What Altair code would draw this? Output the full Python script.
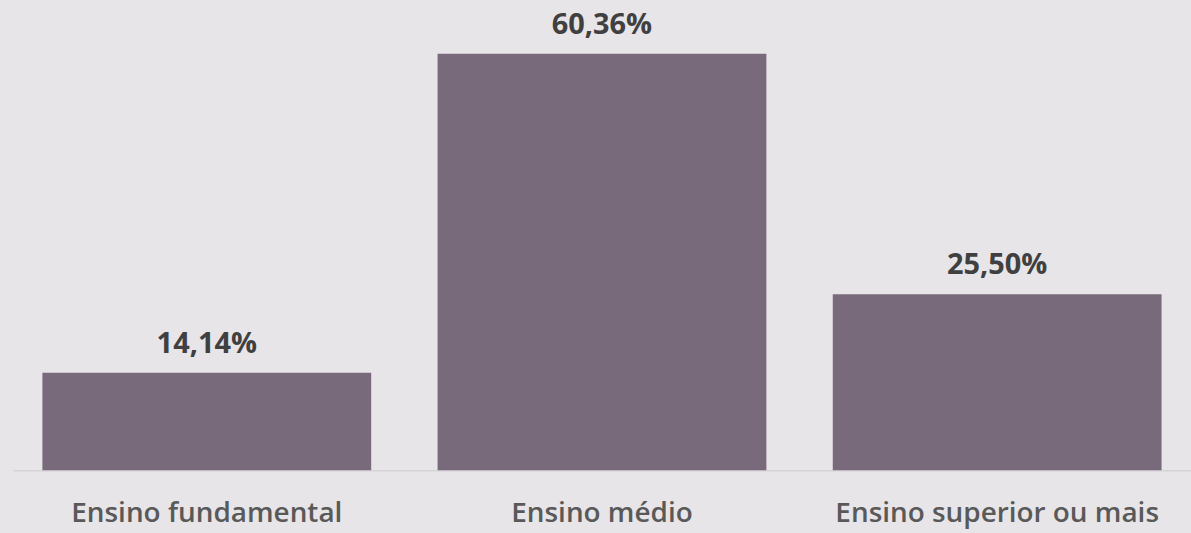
import altair as alt
import pandas as pd

categories = ["Ensino fundamental", "Ensino médio", "Ensino superior ou mais"]
values = [14.14, 60.36, 25.50]
labels = ["14,14%", "60,36%", "25,50%"]

df = pd.DataFrame({"cat": categories, "val": values, "lab": labels})

BG = "#E7E5E8"
FONT = "Open Sans"

x = alt.X("cat:N", sort=categories, title=None,
          scale=alt.Scale(paddingInner=0.168, paddingOuter=0.0745),
          axis=alt.Axis(labelAngle=0, labelFont=FONT, labelFontSize=28,
                        labelFontWeight=600, labelColor="#595959",
                        labelPadding=29, ticks=False, domainColor="#D6D3D7",
                        domainWidth=1.5, labelLimit=500))
y = alt.Y("val:Q", scale=alt.Scale(domain=[0, 68.0], nice=False), axis=None)

bars = alt.Chart(df).mark_bar(color="#786A7A").encode(x=x, y=y)
text = alt.Chart(df).mark_text(dy=-20, baseline="alphabetic", font=FONT, fontSize=29,
                               fontWeight="bold",
                               color="#404040").encode(x=x, y=y, text="lab:N")

chart = (bars + text).properties(
    width=1182, height=471,
    background=BG,
    padding={"left": 13, "top": 0, "right": 0, "bottom": 62},
    autosize=alt.AutoSizeParams(type="none"),
).configure_view(stroke=None)

chart.save("out.html", embed_options={"renderer": "svg", "actions": False})
